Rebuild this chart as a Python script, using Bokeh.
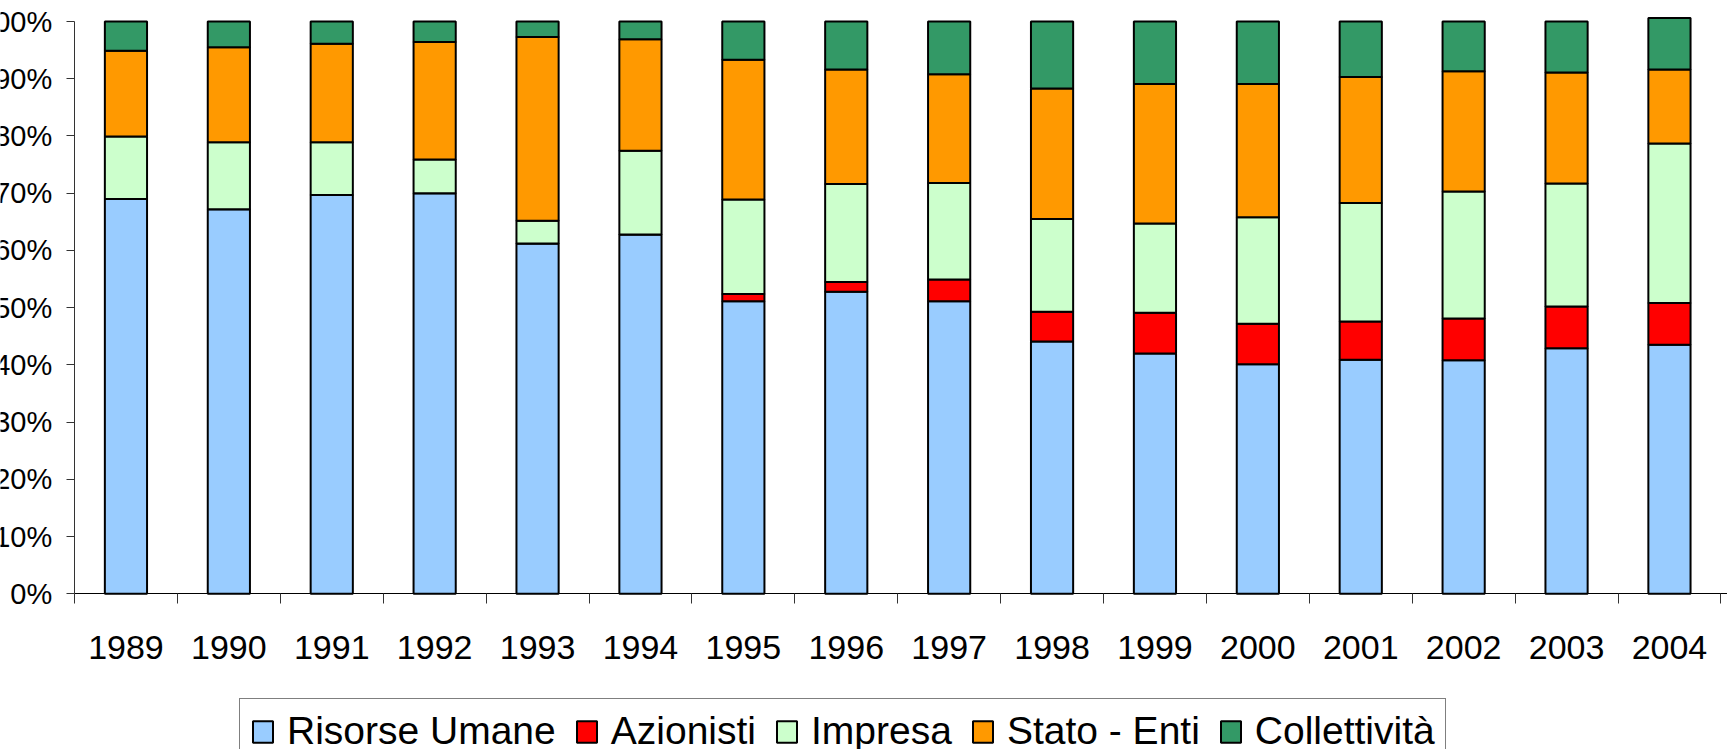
from bokeh.plotting import figure
from bokeh.models import ColumnDataSource, FixedTicker, LabelSet, Range1d, LinearAxis
from bokeh.core.properties import value
from bokeh.embed import file_html
from bokeh.resources import INLINE

# ---- data (percent shares) ----
years = ["1989", "1990", "1991", "1992", "1993", "1994", "1995", "1996",
         "1997", "1998", "1999", "2000", "2001", "2002", "2003", "2004"]
risorse_umane = [69.0, 67.2, 69.7, 70.0, 61.2, 62.8, 51.1, 52.8, 51.1, 44.1, 42.0, 40.1, 40.9, 40.8, 42.9, 43.5]
azionisti = [0.0, 0.0, 0.0, 0.0, 0.0, 0.0, 1.3, 1.7, 3.8, 5.2, 7.1, 7.1, 6.7, 7.3, 7.3, 7.3]
impresa = [10.9, 11.7, 9.2, 5.9, 4.0, 14.6, 16.5, 17.1, 16.9, 16.2, 15.6, 18.6, 20.7, 22.2, 21.5, 27.9]
stato_enti = [15.0, 16.6, 17.2, 20.5, 32.1, 19.5, 24.4, 20.0, 19.0, 22.8, 24.4, 23.3, 22.0, 21.0, 19.4, 12.9]
collettivita = [5.1, 4.5, 3.9, 3.6, 2.7, 3.1, 6.7, 8.4, 9.2, 11.7, 10.9, 10.9, 9.7, 8.7, 8.9, 9.0]

series_names = ["Risorse Umane", "Azionisti", "Impresa", "Stato - Enti", "Collettività"]
series_keys = ["risorse", "azionisti", "impresa", "stato", "collettivita"]
series_colors = ["#99CCFF", "#FF0000", "#CCFFCC", "#FF9900", "#339966"]

y_tick_values = [0, 10, 20, 30, 40, 50, 60, 70, 80, 90, 100]
y_tick_labels = ["0%", "10%", "20%", "30%", "40%", "50%", "60%", "70%", "80%", "90%", "100%"]

FONT = "Liberation Sans"

# ---- layout constants (pixels inside the canvas) ----
W, H = 1727, 749
AXIS_X_PX = 74        # where the value axis sits
ZERO_Y_PX = 593.3     # where 0% sits
FULL_Y_PX = 21.0      # where 100% sits
CAT_PX = 102.9        # width of one category slot

n = len(years)
px_per_pct = (ZERO_Y_PX - FULL_Y_PX) / 100.0
x_end = (W - AXIS_X_PX) / CAT_PX

centers = [i + 0.5 for i in range(n)]
boundaries = [float(i) for i in range(n + 1)]

source = ColumnDataSource(data=dict(
    x=centers,
    risorse=risorse_umane,
    azionisti=azionisti,
    impresa=impresa,
    stato=stato_enti,
    collettivita=collettivita,
))

p = figure(width=W, height=H,
           x_range=Range1d(-AXIS_X_PX / CAT_PX, x_end),
           y_range=Range1d(-(H - ZERO_Y_PX) / px_per_pct, 100 + FULL_Y_PX / px_per_pct),
           x_axis_location=None, y_axis_location=None,
           output_backend="svg", toolbar_location=None,
           min_border_left=0, min_border_right=0,
           min_border_top=0, min_border_bottom=0)

p.vbar_stack(series_keys, x="x", width=0.41, source=source,
             color=series_colors, line_color="black", line_width=2,
             legend_label=series_names)

p.xgrid.visible = False
p.ygrid.visible = False
p.outline_line_color = None
p.background_fill_color = "white"
p.border_fill_color = "white"

# category axis: line at 0%, ticks at category boundaries pointing down
xaxis = LinearAxis(ticker=FixedTicker(ticks=[], minor_ticks=boundaries),
                   fixed_location=0, bounds=(0, x_end),
                   axis_line_color="black", axis_line_width=1,
                   major_tick_in=0, major_tick_out=0,
                   minor_tick_in=10, minor_tick_out=0,
                   minor_tick_line_color="#333333", major_label_standoff=0)
p.add_layout(xaxis, "above")

# value axis: line at the first category edge, ticks pointing left
yaxis = LinearAxis(ticker=FixedTicker(ticks=[], minor_ticks=y_tick_values),
                   fixed_location=0, bounds=(0, 100),
                   axis_line_color="#333333", axis_line_width=1,
                   major_tick_in=0, major_tick_out=0,
                   minor_tick_in=8, minor_tick_out=0,
                   minor_tick_line_color="#333333", major_label_standoff=0)
p.add_layout(yaxis, "right")

# tick labels
ylab_src = ColumnDataSource(data=dict(y=y_tick_values, text=y_tick_labels))
p.add_layout(LabelSet(x=51.7, y="y", text="text", x_units="screen", y_units="data",
                      source=ylab_src, text_align="right", text_baseline="middle",
                      text_font=value(FONT), text_font_size="29px", text_color="black"))

xlab_src = ColumnDataSource(data=dict(x=centers, text=years))
p.add_layout(LabelSet(x="x", y=H - 658.3, text="text", x_units="data", y_units="screen",
                      source=xlab_src, text_align="center", text_baseline="alphabetic",
                      text_font=value(FONT), text_font_size="34px", text_color="black"))

leg = p.legend[0]
leg.orientation = "horizontal"
leg.location = (239, -15)
leg.label_text_font = FONT
leg.label_text_font_size = "39px"
leg.label_text_color = "black"
leg.glyph_width = 25
leg.glyph_height = 27
leg.label_standoff = 12
leg.spacing = 18
leg.padding = 10
leg.margin = 0
leg.border_line_color = "black"
leg.border_line_width = 1
leg.background_fill_color = "white"
leg.background_fill_alpha = 1.0

open("out.html", "w").write(file_html(p, INLINE))
